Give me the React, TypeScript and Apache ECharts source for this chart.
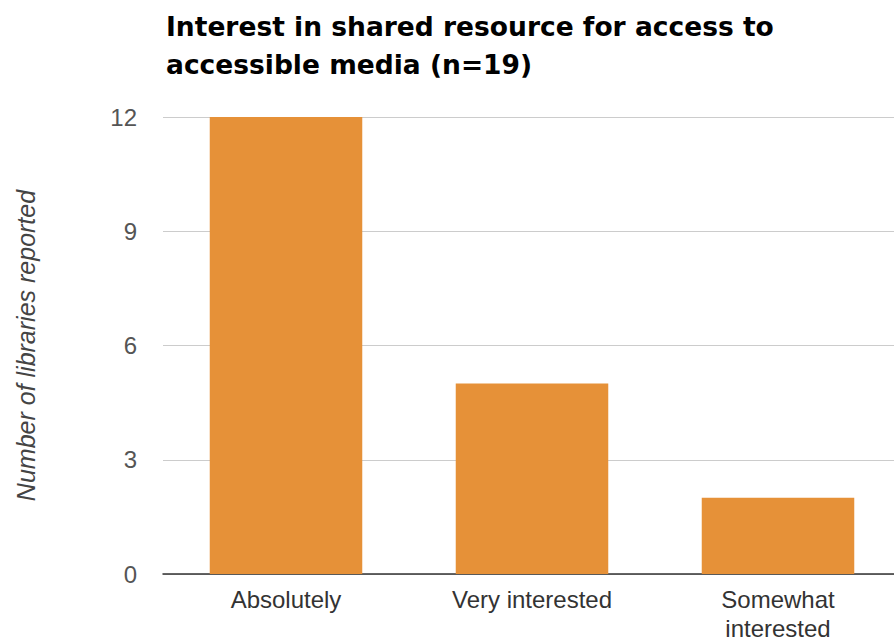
import React, { useEffect, useRef } from "react";
import * as echarts from "echarts";

const titleText = "Interest in shared resource for access to\naccessible media (n=19)";
const categories = ["Absolutely", "Very interested", "Somewhat interested"];
const values = [12, 5, 2];
const yAxisName = "Number of libraries reported";

export default function App() {
  const ref = useRef<HTMLDivElement>(null);
  useEffect(() => {
    if (!ref.current) return;
    const chart = echarts.init(ref.current, null, { renderer: "svg" });
    chart.setOption({
      animation: false,
      backgroundColor: "#ffffff",
      title: {
        text: titleText,
        left: 161,
        top: 2,
        textStyle: {
          fontFamily: "DejaVu Sans, sans-serif",
          fontWeight: "bold",
          fontSize: 26.5,
          lineHeight: 38,
          color: "#000000",
        },
      },
      grid: { left: 163, right: 0, top: 117, bottom: 62, containLabel: false },
      xAxis: {
        type: "category",
        data: categories,
        axisLine: { lineStyle: { color: "#333333", width: 1.5 } },
        axisTick: { show: false },
        axisLabel: {
          fontFamily: "Liberation Sans, Arial, sans-serif",
          fontSize: 24,
          color: "#333333",
          margin: 11,
          lineHeight: 29,
          interval: 0,
          formatter: (v: string) => (v.length > 16 ? v.replace(" ", "\n") : v),
        },
      },
      yAxis: {
        type: "value",
        min: 0,
        max: 12,
        interval: 3,
        name: yAxisName,
        nameLocation: "middle",
        nameGap: 125,
        nameTextStyle: {
          fontFamily: "Liberation Sans, Arial, sans-serif",
          fontSize: 25,
          fontStyle: "italic",
          color: "#444444",
        },
        axisLine: { show: false },
        axisTick: { show: false },
        axisLabel: {
          fontFamily: "Liberation Sans, Arial, sans-serif",
          fontSize: 24,
          color: "#555555",
          margin: 26,
        },
        splitLine: { lineStyle: { color: "#cccccc", width: 1 } },
      },
      series: [
        {
          type: "bar",
          data: values,
          barWidth: "62%",
          itemStyle: { color: "#E69138" },
        },
      ],
    });
    return () => chart.dispose();
  }, []);
  return (
    <div
      ref={ref}
      style={{ position: "fixed", left: 0, top: 0, width: 901, height: 643 }}
    />
  );
}
